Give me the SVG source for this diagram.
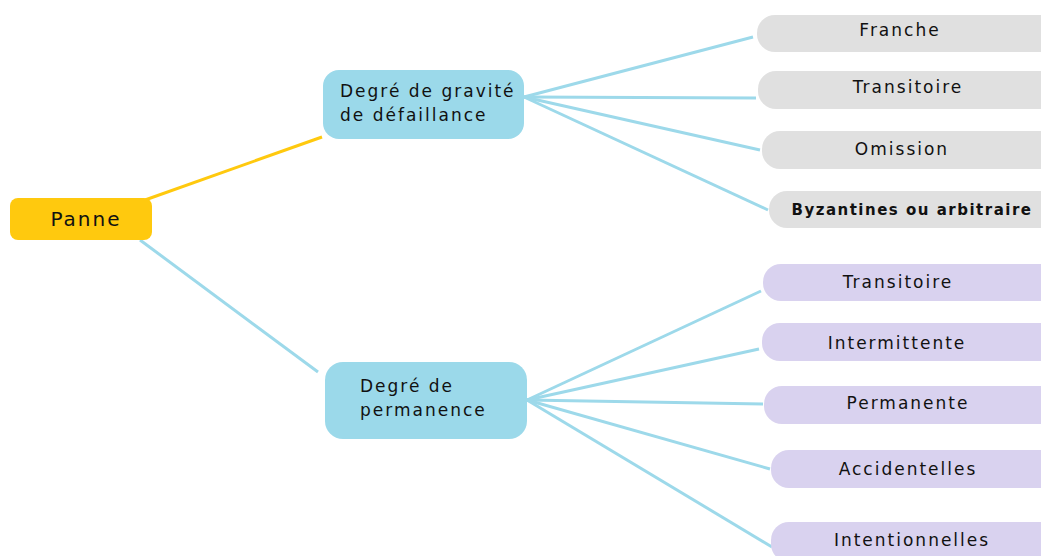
<svg xmlns="http://www.w3.org/2000/svg" width="1041" height="556" viewBox="0 0 1041 556">
<style>
text{font-family:"Comic Sans MS","DejaVu Sans","Noto Sans",sans-serif;fill:#111;}
.t{font-size:17px;letter-spacing:2px;}
.s{font-size:17px;text-anchor:middle;letter-spacing:2px;}
.gray{fill:#E0E0E0;}
.lav{fill:#D9D2EF;}
.blue{fill:#9BD9EA;}
.c{stroke:#9DD9EA;stroke-width:3;fill:none;}
</style>
<rect width="1041" height="556" fill="#fff"/>
<g id="connectors">
<line x1="145" y1="200" x2="322" y2="137" stroke="#FFC90E" stroke-width="3"/>
<line class="c" x1="140" y1="240" x2="318" y2="372"/>
<line class="c" x1="524" y1="97" x2="753" y2="37"/>
<line class="c" x1="524" y1="97" x2="756" y2="98"/>
<line class="c" x1="524" y1="97" x2="760" y2="150"/>
<line class="c" x1="524" y1="97" x2="768" y2="210"/>
<line class="c" x1="527" y1="400" x2="761" y2="291"/>
<line class="c" x1="527" y1="400" x2="759" y2="349"/>
<line class="c" x1="527" y1="400" x2="763" y2="404"/>
<line class="c" x1="527" y1="400" x2="770" y2="469"/>
<line class="c" x1="527" y1="400" x2="772" y2="547"/>
</g>
<g id="panne">
<rect x="10" y="198" width="142" height="42" rx="8" fill="#FFC90E"/>
<text x="86" y="226" style="font-size:20px;text-anchor:middle;letter-spacing:2px">Panne</text>
</g>
<g id="gravite">
<rect class="blue" x="323" y="70" width="201" height="69" rx="16"/>
<text class="t" x="340" y="97">Degré de gravité</text>
<text class="t" x="340" y="121">de défaillance</text>
</g>
<g id="permanence">
<rect class="blue" x="325" y="362" width="202" height="77" rx="18"/>
<text class="t" x="360" y="392">Degré de</text>
<text class="t" x="360" y="416">permanence</text>
</g>
<g id="franche"><rect class="gray" x="757" y="15" width="300" height="37" rx="18"/><text class="s" x="900" y="36">Franche</text></g>
<g id="transitoire1"><rect class="gray" x="758" y="71" width="300" height="38" rx="18"/><text class="s" x="908" y="93">Transitoire</text></g>
<g id="omission"><rect class="gray" x="762" y="131" width="300" height="38" rx="18"/><text class="s" x="902" y="155">Omission</text></g>
<g id="byzantines"><rect class="gray" x="769" y="191" width="300" height="37" rx="18"/><text class="s" x="912" y="215" style="font-weight:bold;font-size:15px;letter-spacing:1.5px">Byzantines ou arbitraire</text></g>
<g id="transitoire2"><rect class="lav" x="763" y="264" width="300" height="37" rx="18"/><text class="s" x="898" y="288">Transitoire</text></g>
<g id="intermittente"><rect class="lav" x="762" y="323" width="300" height="38" rx="18"/><text class="s" x="897" y="349">Intermittente</text></g>
<g id="permanente"><rect class="lav" x="764" y="386" width="300" height="38" rx="18"/><text class="s" x="908" y="409">Permanente</text></g>
<g id="accidentelles"><rect class="lav" x="771" y="450" width="300" height="38" rx="18"/><text class="s" x="908" y="475">Accidentelles</text></g>
<g id="intentionnelles"><rect class="lav" x="771" y="522" width="300" height="40" rx="18"/><text class="s" x="912" y="546">Intentionnelles</text></g>
</svg>
